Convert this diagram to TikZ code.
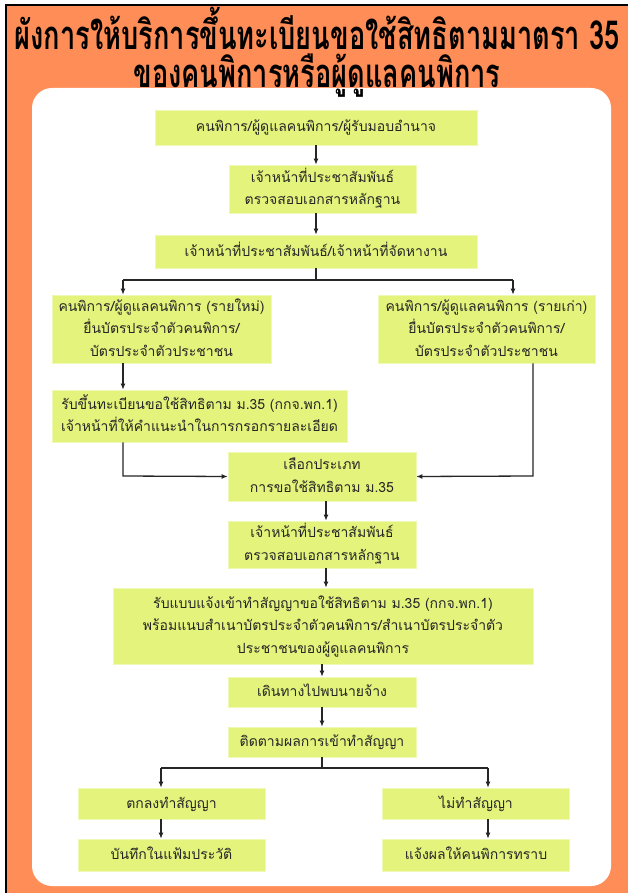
\documentclass[tikz,border=0pt]{standalone}
\usepackage{fontspec}
\setmainfont[Script=Thai]{Loma}
\usetikzlibrary{arrows.meta}
\definecolor{bgorange}{RGB}{255,141,87}
\definecolor{boxfill}{RGB}{228,243,123}
\tikzset{
  flowbox/.style={fill=boxfill, draw=boxfill!55!white, line width=0.6pt, inner sep=0pt,
    align=center, font=\fontsize{14}{22.5}\selectfont, text=black!85},
  arr/.style={draw=black!85, line width=1.3pt, -{Latex[length=6pt,width=5pt]}},
  ln/.style={draw=black!85, line width=1.3pt},
}
\newcommand{\tb}[1]{\begin{tabular}{@{}c@{}}#1\end{tabular}}
\begin{document}
\begin{tikzpicture}[x=1pt,y=-1pt]
\useasboundingbox (0,0) rectangle (628,893);
\fill[white] (0,0) rectangle (628,893);
\fill[bgorange] (6,5) rectangle (628,893);
\draw[black, line width=2pt] (6,893) -- (6,5) -- (628,5);
\fill[white, rounded corners=20pt] (32,88) rectangle (611,886);
\node[font=\fontsize{40}{33}\bfseries\selectfont, align=center, inner sep=0pt] (title) at (317,52)
  {\scalebox{0.68}[1]{\begin{tabular}{@{}c@{}}ผังการให้บริการขึ้นทะเบียนขอใช้สิทธิตามมาตรา 35\\[-6pt]ของคนพิการหรือผู้ดูแลคนพิการ\end{tabular}}};
% boxes
\node[flowbox, minimum width=322, minimum height=35] (b1) at (316,127.5) {\tb{คนพิการ/ผู้ดูแลคนพิการ/ผู้รับมอบอำนาจ}};
\node[flowbox, minimum width=187, minimum height=48] (b2) at (322.5,189) {\tb{เจ้าหน้าที่ประชาสัมพันธ์\\ตรวจสอบเอกสารหลักฐาน}};
\node[flowbox, minimum width=322, minimum height=33] (b3) at (316,251.5) {\tb{เจ้าหน้าที่ประชาสัมพันธ์/เจ้าหน้าที่จัดหางาน}};
\node[flowbox, minimum width=219, minimum height=68] (b4L) at (161.5,329) {\tb{คนพิการ/ผู้ดูแลคนพิการ (รายใหม่)\\ยื่นบัตรประจำตัวคนพิการ/\\บัตรประจำตัวประชาชน}};
\node[flowbox, minimum width=217, minimum height=68] (b4R) at (486.5,329) {\tb{คนพิการ/ผู้ดูแลคนพิการ (รายเก่า)\\ยื่นบัตรประจำตัวคนพิการ/\\บัตรประจำตัวประชาชน}};
\node[flowbox, minimum width=295, minimum height=52] (b5) at (199.5,416) {\tb{รับขึ้นทะเบียนขอใช้สิทธิตาม ม.35 (กกจ.พก.1)\\เจ้าหน้าที่ให้คำแนะนำในการกรอกรายละเอียด}};
\node[flowbox, minimum width=188, minimum height=49] (b6) at (322,476.5) {\tb{เลือกประเภท\\การขอใช้สิทธิตาม ม.35}};
\node[flowbox, minimum width=188, minimum height=47] (b7) at (322,544.5) {\tb{เจ้าหน้าที่ประชาสัมพันธ์\\ตรวจสอบเอกสารหลักฐาน}};
\node[flowbox, minimum width=420, minimum height=76] (b8) at (323,626) {\tb{รับแบบแจ้งเข้าทำสัญญาขอใช้สิทธิตาม ม.35 (กกจ.พก.1)\\พร้อมแนบสำเนาบัตรประจำตัวคนพิการ/สำเนาบัตรประจำตัว\\ประชาชนของผู้ดูแลคนพิการ}};
\node[flowbox, minimum width=188, minimum height=30] (b9) at (322,692) {\tb{เดินทางไปพบนายจ้าง}};
\node[flowbox, minimum width=188, minimum height=30] (b10) at (322,742) {\tb{ติดตามผลการเข้าทำสัญญา}};
\node[flowbox, minimum width=187, minimum height=31] (b11L) at (171.5,803.5) {\tb{ตกลงทำสัญญา}};
\node[flowbox, minimum width=187, minimum height=31] (b11R) at (476,803.5) {\tb{ไม่ทำสัญญา}};
\node[flowbox, minimum width=187, minimum height=32] (b12L) at (171.5,855) {\tb{บันทึกในแฟ้มประวัติ}};
\node[flowbox, minimum width=187, minimum height=32] (b12R) at (476,855) {\tb{แจ้งผลให้คนพิการทราบ}};
% guide coordinates
\coordinate (xa) at (316,0);
\coordinate (xL) at (123,0);
\coordinate (xR) at (513,0);
\coordinate (xRR) at (533,0);
\coordinate (xb) at (326,0);
\coordinate (xc) at (322,0);
\coordinate (xL2) at (161,0);
\coordinate (xR2) at (488,0);
\coordinate (y1) at (0,280);
\coordinate (y2) at (0,476);
\coordinate (y3) at (0,768);
% connectors
\draw[arr] (b1.south -| xa) -- (b2.north -| xa);
\draw[arr] (b2.south -| xa) -- (b3.north -| xa);
\draw[ln] (b3.south -| xa) -- (xa |- y1);
\draw[arr] (xL |- y1) -- (b4L.north -| xL);
\draw[arr] (xR |- y1) -- (b4R.north -| xR);
\draw[ln] (xL |- y1) -- (xR |- y1);
\draw[arr] (b4L.south -| xL) -- (b5.north -| xL);
\draw[arr] (b5.south -| xL) -- (xL |- y2) -- (b6.west);
\draw[arr] (b4R.south -| xRR) -- (xRR |- y2) -- (b6.east);
\draw[arr] (b6.south -| xb) -- (b7.north -| xb);
\draw[arr] (b7.south -| xb) -- (b8.north -| xb);
\draw[arr] (b8.south -| xc) -- (b9.north -| xc);
\draw[arr] (b9.south -| xc) -- (b10.north -| xc);
\draw[ln] (b10.south -| xc) -- (xc |- y3);
\draw[ln] (xL2 |- y3) -- (xR2 |- y3);
\draw[arr] (xL2 |- y3) -- (b11L.north -| xL2);
\draw[arr] (xR2 |- y3) -- (b11R.north -| xR2);
\draw[arr] (b11L.south -| xL2) -- (b12L.north -| xL2);
\draw[arr] (b11R.south -| xR2) -- (b12R.north -| xR2);
\end{tikzpicture}
\end{document}
